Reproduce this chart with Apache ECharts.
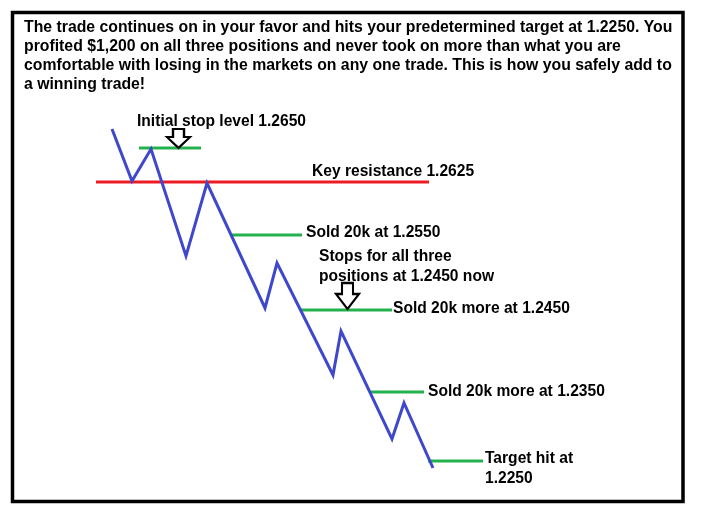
<!DOCTYPE html>
<html>
<head>
<meta charset="utf-8">
<script src="https://cdn.jsdelivr.net/npm/echarts@6/dist/echarts.min.js"></script>
<style>
html,body{margin:0;padding:0;background:#fff;}
#chart{width:702px;height:519px;}
</style>
</head>
<body>
<div id="chart"></div>
<script>
// Zigzag price path (diagram units)
const pathX = [112, 132, 151, 186, 207, 265, 277, 333, 341, 392, 404, 433];
const pathY = [129, 181, 149, 256, 183, 308, 263, 375, 331, 439, 403, 468];

// Key resistance level
const resistanceX = [96, 429];
const resistanceY = 182;

// Green levels: initial stop, three sells, target
const levelStartX = [139, 232, 300, 369, 428];
const levelEndX   = [201, 302, 392, 424, 483];
const levelY      = [148, 235, 310, 392, 461];

// Arrow markers pointing at stop levels
const arrowX = [178.5, 347.5];
const arrowY = [138.5, 296];

const headerText = [
  'The trade continues on in your favor and hits your predetermined target at 1.2250. You',
  'profited $1,200 on all three positions and never took on more than what you are',
  'comfortable with losing in the markets on any one trade. This is how you safely add to',
  'a winning trade!'
];

const labelTexts = [
  'Initial stop level 1.2650',
  'Key resistance 1.2625',
  'Sold 20k at 1.2550',
  'Stops for all three\npositions at 1.2450 now',
  'Sold 20k more at 1.2450',
  'Sold 20k more at 1.2350',
  'Target hit at\n1.2250'
];

const FONT = '"Liberation Sans", Arial, sans-serif';
const labelPos = [
  {x: 137, y: 112},
  {x: 312, y: 161.5},
  {x: 306, y: 223},
  {x: 319, y: 247},
  {x: 393, y: 299},
  {x: 428, y: 381.5},
  {x: 485, y: 449}
];

const chart = echarts.init(document.getElementById('chart'), null, {renderer: 'canvas'});

const series = [];
series.push({
  type: 'line',
  data: [[resistanceX[0], resistanceY], [resistanceX[1], resistanceY]],
  symbol: 'none',
  lineStyle: {color: '#ed1c24', width: 3},
  z: 2,
  silent: true
});
levelY.forEach((y, i) => {
  series.push({
    type: 'line',
    data: [[levelStartX[i], y], [levelEndX[i], y]],
    symbol: 'none',
    lineStyle: {color: '#22b14c', width: 3},
    z: 2,
    silent: true
  });
});
series.push({
  type: 'line',
  data: pathX.map((x, i) => [x, pathY[i]]),
  symbol: 'none',
  lineStyle: {color: '#3f48cc', width: 3, cap: 'butt', join: 'miter'},
  z: 3,
  silent: true,
  markPoint: {
    silent: true,
    symbol: 'path://M6,0 L17,0 L17,11 L23,11 L11.5,26 L0,11 L6,11 Z',
    symbolKeepAspect: false,
    itemStyle: {color: '#ffffff', borderColor: '#000000', borderWidth: 2.2},
    label: {show: false},
    data: [
      {coord: [arrowX[0], arrowY[0]], symbolSize: [23, 19]},
      {coord: [arrowX[1], arrowY[1]], symbolSize: [23, 26]}
    ]
  }
});

const graphics = [
  {
    type: 'rect',
    shape: {x: 12.5, y: 12.5, width: 670.5, height: 489},
    style: {fill: null, stroke: '#000', lineWidth: 3.5},
    silent: true,
    z: 10
  },
  {
    type: 'text',
    x: 24, y: 18.5,
    style: {
      text: headerText.join('\n'),
      font: 'bold 15.8px ' + FONT,
      fill: '#000',
      lineHeight: 19,
      verticalAlign: 'top'
    },
    silent: true,
    z: 10
  }
];
labelTexts.forEach((t, i) => {
  graphics.push({
    type: 'text',
    x: labelPos[i].x, y: labelPos[i].y,
    style: {
      text: t,
      font: 'bold 15.6px ' + FONT,
      fill: '#000',
      lineHeight: 19.5,
      verticalAlign: 'top'
    },
    silent: true,
    z: 10
  });
});

chart.setOption({
  animation: false,
  backgroundColor: '#ffffff',
  grid: {left: 0, right: 0, top: 0, bottom: 0},
  xAxis: {type: 'value', min: 0, max: 702, show: false},
  yAxis: {type: 'value', min: 0, max: 519, inverse: true, show: false},
  series: series,
  graphic: graphics
});
</script>
</body>
</html>
